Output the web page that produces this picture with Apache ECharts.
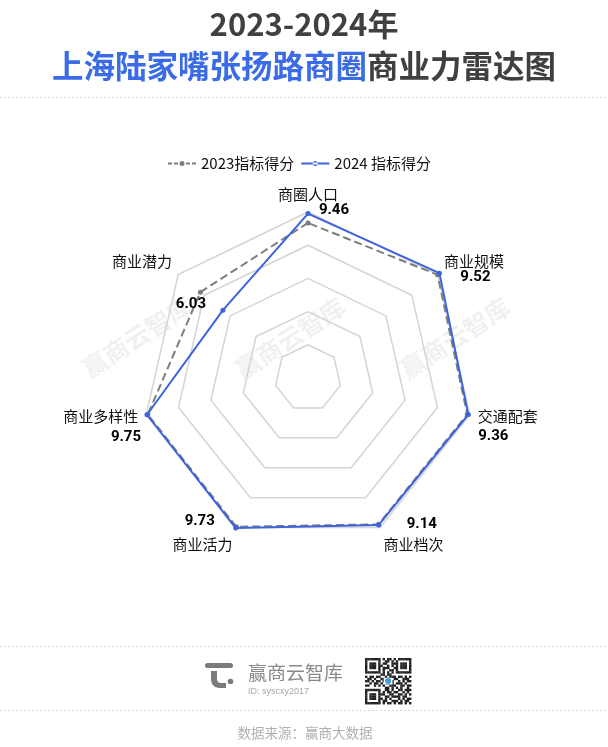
<!DOCTYPE html>
<html><head><meta charset="utf-8">
<script src="https://cdn.jsdelivr.net/npm/echarts@6/dist/echarts.min.js"></script>
<style>html,body{margin:0;padding:0;background:#fff}#c{width:608px;height:747px}</style>
</head><body><div id="c"></div>
<script>
const indicatorNames = ['商圈人口','商业潜力','商业多样性','商业活力','商业档次','交通配套','商业规模'];
const indicatorMax = [9.55, 9.2, 9.8, 9.7, 9.3, 9.45, 9.4];
const score2023 = [8.92, 7.63, 9.7, 9.65, 9.1, 9.3, 9.38];
const score2024 = [9.46, 6.03, 9.75, 9.73, 9.14, 9.36, 9.52];
const seriesNames = ['2023指标得分', '2024 指标得分'];

const FONT = '"Noto Sans CJK SC", "Noto Sans", sans-serif';
const NUMFONT = 'Roboto, "Noto Sans", sans-serif';

// label offsets for each value label (dx, dy relative to its point)
const valueShift = [[26,-3],[-32,-6],[-21,22],[-36,-7],[43,-1],[25,22],[36,4]];
// name shifts
const nameShift = [[0,-1],[0,-8],[0,0],[0,10],[0,10],[0,0],[0,-8]];

const valueRich = {};
valueShift.forEach(function (s, i) {
  const dx = s[0], dy = s[1];
  valueRich['v' + i] = {
    fontFamily: NUMFONT, fontWeight: 'bold', fontSize: 15, color: '#000',
    padding: [dy > 0 ? 2 * dy : 0, dx < 0 ? -2 * dx : 0, dy < 0 ? -2 * dy : 0, dx > 0 ? 2 * dx : 0]
  };
});
const nameRich = {};
nameShift.forEach(function (s, i) {
  const dx = s[0], dy = s[1];
  nameRich['n' + i] = {
    fontFamily: FONT, fontSize: 15, color: '#111',
    padding: [dy > 0 ? 2 * dy : 0, dx < 0 ? -2 * dx : 0, dy < 0 ? -2 * dy : 0, dx > 0 ? 2 * dx : 0]
  };
});

const qrRows = [
'111111101011010111111',
'100000100110101000001',
'101110101100111011101',
'101110110010101011101',
'101110101110011011101',
'100000101001101000001',
'111111101010101111111',
'000000011011000000000',
'101101100101110110101',
'011010011010011001110',
'110101101101100101011',
'001011010110101110100',
'110010101001110011011',
'000000000110101010010',
'111111100110100110111',
'100000101011011001010',
'101110111001100110101',
'101110100110111101100',
'101110110101000101011',
'100000101100111010110',
'111111101011010110101'
];
const qrGraphics = [];
const qx = 365, qy = 658, qs = 2.2;
qrRows.forEach(function (row, r) {
  for (let c = 0; c < row.length; c++) {
    if (row[c] === '1') qrGraphics.push({type:'rect', shape:{x:qx + c*qs, y:qy + r*qs, width:qs+0.2, height:qs+0.2}, style:{fill:'#222'}});
  }
});
qrGraphics.push({type:'rect', shape:{x:qx+8.5*qs, y:qy+9*qs, width:4*qs, height:3*qs}, style:{fill:'#fff'}});
qrGraphics.push({type:'circle', shape:{cx:qx+10.5*qs, cy:qy+10.5*qs, r:3}, style:{fill:'#3a9be0'}});

const chart = echarts.init(document.getElementById('c'), null, {renderer: 'canvas'});

const option = {
  backgroundColor: '#fff',
  animation: false,
  title: {
    left: 'center', top: -2,
    text: '{a|2023-2024年}\n{b|上海陆家嘴张扬路商圈}{c|商业力雷达图}',
    textStyle: {
      rich: {
        a: {fontFamily: FONT, fontSize: 31, fontWeight: 'bold', color: '#404040', lineHeight: 42},
        b: {fontFamily: FONT, fontSize: 31.5, fontWeight: 'bold', color: '#3b6ce6', lineHeight: 42},
        c: {fontFamily: FONT, fontSize: 31.5, fontWeight: 'bold', color: '#404040', lineHeight: 42}
      }
    }
  },
  legend: {
    left: 163, top: 151, itemWidth: 28, itemHeight: 10, itemGap: 7,
    textStyle: {fontFamily: FONT, fontSize: 15, color: '#111'},
    data: [
      {name: seriesNames[0], icon: 'path://M0,4h4v2h-4zM6,4h4v2h-4zM18,4h4v2h-4zM24,4h4v2h-4zM11.5,5a2.5,2.5 0 1,0 5,0a2.5,2.5 0 1,0 -5,0z'},
      {name: seriesNames[1], icon: 'path://M0,4h28v2h-28zM11.5,5a2.5,2.5 0 1,0 5,0a2.5,2.5 0 1,0 -5,0z'}
    ]
  },
  radar: {
    center: [308, 378], radius: 166, startAngle: 90, splitNumber: 5, shape: 'polygon',
    nameGap: 8,
    indicator: indicatorNames.map(function (n, i) { return {name: n, min: 0, max: indicatorMax[i]}; }),
    axisName: {
      formatter: function (name) { const i = indicatorNames.indexOf(name); return '{n' + i + '|' + name + '}'; },
      rich: nameRich
    },
    splitLine: {lineStyle: {color: '#d4d4d4', width: 1.5}},
    splitArea: {show: false},
    axisLine: {show: false},
    axisTick: {show: false},
    axisLabel: {show: false}
  },
  graphic: [
    {type:'line', shape:{x1:0,y1:97.5,x2:608,y2:97.5}, style:{stroke:'#d8d8d8', lineWidth:1, lineDash:[2,2]}},
    {type:'line', shape:{x1:0,y1:646.5,x2:608,y2:646.5}, style:{stroke:'#d8d8d8', lineWidth:1, lineDash:[2,2]}},
    {type:'line', shape:{x1:0,y1:710.5,x2:608,y2:710.5}, style:{stroke:'#d8d8d8', lineWidth:1, lineDash:[2,2]}},
    {type:'text', x:137, y:337, rotation: 33*Math.PI/180, style:{text:'赢商云智库', font:'bold 25px "Noto Sans CJK SC"', fill:'rgba(0,0,0,0.06)', textAlign:'center', textVerticalAlign:'middle'}, z:-1},
    {type:'text', x:290, y:338, rotation: 33*Math.PI/180, style:{text:'赢商云智库', font:'bold 25px "Noto Sans CJK SC"', fill:'rgba(0,0,0,0.06)', textAlign:'center', textVerticalAlign:'middle'}, z:-1},
    {type:'text', x:455, y:338, rotation: 33*Math.PI/180, style:{text:'赢商云智库', font:'bold 25px "Noto Sans CJK SC"', fill:'rgba(0,0,0,0.06)', textAlign:'center', textVerticalAlign:'middle'}, z:-1},
    {type:'rect', shape:{x:205, y:663, width:28, height:5, r:2.5}, style:{fill:'#7a7a7a'}},
    {type:'polygon', shape:{points:[[211,671],[217,671],[217,680],[218,682],[220,683],[226,683],[226,688],[219,688],[215,687],[212,684],[211,680]]}, style:{fill:'#7a7a7a'}},
    {type:'circle', shape:{cx:230.5, cy:681.5, r:2.8}, style:{fill:'#7a7a7a'}},
    {type:'text', x:248, y:673, style:{text:'赢商云智库', font:'19px "Noto Sans CJK SC"', fill:'#8a8a8a', textVerticalAlign:'middle'}},
    {type:'text', x:248, y:692, style:{text:'ID: syscxy2017', font:'9px "Liberation Sans"', fill:'#a8a8a8', textVerticalAlign:'middle'}},
    {type:'group', children: qrGraphics},
    {type:'text', x:305, y:733, style:{text:'数据来源：赢商大数据', font:'13.5px "Noto Sans CJK SC"', fill:'#b0b0b0', textAlign:'center', textVerticalAlign:'middle'}}
  ],
  series: [
    {
      type: 'radar', z: 2, symbol: 'circle', symbolSize: 5,
      lineStyle: {type: 'dashed', width: 2, color: '#7d7d7d'},
      itemStyle: {color: '#7d7d7d'},
      data: [{name: seriesNames[0], value: score2023}]
    },
    {
      type: 'radar', z: 3, symbol: 'circle', symbolSize: 5,
      lineStyle: {width: 2, color: '#3d63dc'},
      itemStyle: {color: '#3d63dc'},
      label: {
        show: true, position: 'inside',
        formatter: function (p) { return '{v' + p.dimensionIndex + '|' + p.value + '}'; },
        rich: valueRich
      },
      data: [{name: seriesNames[1], value: score2024}]
    }
  ]
};
chart.setOption(option);
</script></body></html>
